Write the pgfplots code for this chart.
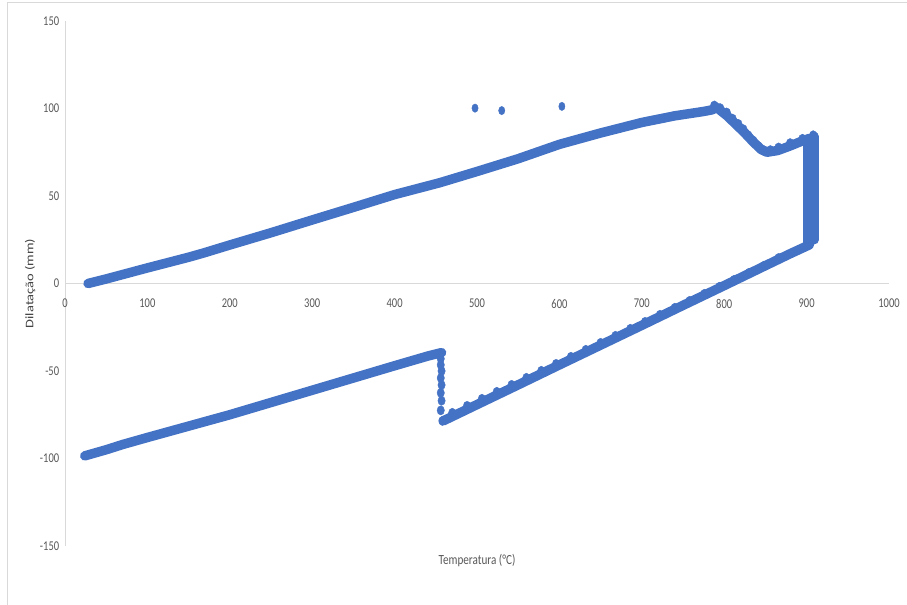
\documentclass[border=0pt]{standalone}
\usepackage{pgfplots}
\pgfplotsset{compat=1.18}
\usepackage{fontspec}
\setmainfont{Carlito}
\definecolor{exblue}{HTML}{4472C4}
\definecolor{axgray}{HTML}{D9D9D9}
\definecolor{txtgray}{HTML}{595959}
\begin{document}
\begin{tikzpicture}[x=1bp,y=1bp]
\useasboundingbox (0,0) rectangle (907,605);
\draw[axgray, line width=1bp] (7,0) -- (7,602) -- (907,602);
\begin{axis}[
  at={(65bp,59bp)}, anchor=south west,
  scale only axis, width=824bp, height=525bp,
  xmin=0, xmax=1000, ymin=-150, ymax=150,
  axis x line=middle, axis y line=left,
  hide obscured x ticks=false, hide obscured y ticks=false,
  axis line style={axgray, line width=1bp, -},
  xtick={0,100,200,300,400,500,600,700,800,900,1000},
  xticklabels={0,100,200,300,400,500,600,700,800,900,1000},
  ytick={-150,-100,-50,0,50,100,150},
  yticklabels={-150,-100,-50,0,50,100,150},
  major tick length=0pt,
  tick label style={font=\fontsize{13.5}{15}\selectfont, text=txtgray, xscale=0.78},
  xticklabel style={anchor=north, yshift=-12bp},
  yticklabel style={anchor=east, xshift=-4bp},
  xlabel={Temperatura (°C)},
  ylabel={Dilatação (mm)},
  xlabel style={at={(axis description cs:0.5,0)}, anchor=north, yshift=-5bp,
    font=\fontsize{14}{16}\selectfont, text=txtgray, xscale=0.8},
  ylabel style={at={(axis description cs:0,0.5)}, anchor=center, yshift=35bp,
    font=\fontsize{14.5}{16}\selectfont, text=txtgray!75!black, yscale=0.8},
  clip=false,
  every axis plot/.append style={exblue},
]
% heating branch and cooling from 905 C
\addplot[line width=9.5bp, line cap=round, line join=round, no marks] coordinates {
(28,0) (50,2.6) (100,8.9) (150,15.0) (168,17.4) (200,22.0) (250,29.0) (300,36.3)
(350,43.5) (400,50.8) (455,57.6) (500,64.0) (550,71.3) (600,79.5) (650,86.0)
(700,92.0) (740,95.8) (775,98.3) (785,99.2) (791,100.5) (803,96) (815,90.6)
(825,86) (835,81) (845,76.5) (852,75) (865,76) (880,78.6) (895,81.5) (904,83)
(906,81) (906,30) (903,22)
(880,17) (850,10.2) (800,-1.2) (750,-12.5) (700,-23.9) (650,-35.2) (600,-46.5)
(550,-57.9) (500,-69.2) (459,-78.5)
};
% isothermal band at about 905 C
\addplot[line width=9.5bp, line cap=round, no marks] coordinates {(901,82) (901,23)};
\addplot[line width=9.5bp, line cap=round, no marks] coordinates {(909,84) (909,25)};
% transformation dots near the peak
\addplot[only marks, mark=*, mark size=5bp, mark options={xscale=0.8}] coordinates {
(788,101.5) (795,100) (803,97.5) (810,94) (817,91) (823,88) (829,84.5) (835,81.5)
(841,78.5) (848,76) (856,76) (866,77.5) (880,80) (895,82.5) (908,84.5)
};
% bumps along cooling line
\addplot[only marks, mark=*, mark size=4.8bp, mark options={xscale=0.8}] coordinates {
(470,-74) (488,-70) (506,-66) (524,-62) (542,-58) (560,-54) (578,-50) (596,-46)
(614,-42) (632,-38) (650,-34) (668,-30) (686,-26) (704,-22) (722,-18) (740,-14)
(758,-10) (776,-6) (794,-2) (812,2) (830,6) (848,10) (866,14.5)
};
% transformation on cooling near 455 C
\addplot[only marks, mark=*, mark size=4.6bp, mark options={xscale=0.8}] coordinates {
(458,-78.5) (456,-72.5) (457,-67) (456,-62.5) (457,-58) (456,-54) (457,-50)
(456,-46.5) (456,-43) (456,-40.5)
};
% lower branch
\addplot[line width=9.5bp, line cap=round, line join=round, no marks] coordinates {
(457,-39.5) (440,-41.5) (400,-47) (350,-54) (300,-61) (250,-68) (200,-75)
(150,-81.5) (100,-88) (70,-92) (50,-95) (24,-98.5)
};
% outliers
\addplot[only marks, mark=*, mark size=4.2bp, mark options={xscale=0.75}] coordinates {
(497.6,100.2) (530,98.8) (603,101.2)
};
\end{axis}
\end{tikzpicture}
\end{document}
